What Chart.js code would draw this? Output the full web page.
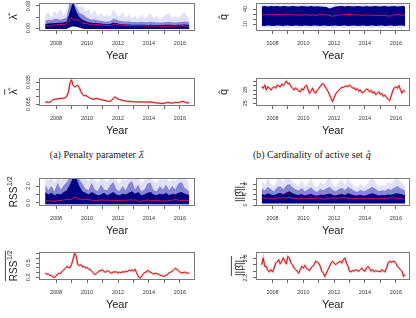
<!DOCTYPE html>
<html>
<head>
<meta charset="utf-8">
<script src="https://cdn.jsdelivr.net/npm/chart.js@4.4.0/dist/chart.umd.min.js"></script>
<style>
  html, body { margin: 0; padding: 0; background: #fff; }
  #fig { position: relative; width: 416px; height: 318px; overflow: hidden; background: #fff; }
  #fig canvas { position: absolute; }
  .cap { position: absolute; font-family: "Liberation Serif", "DejaVu Serif", serif; font-size: 10px; color: #222;
         white-space: nowrap; transform: translateX(-50%); line-height: 1; }
  .cap .m { font-family: "DejaVu Serif", serif; font-style: italic; font-size: 9px; }
</style>
</head>
<body>
<div id="fig">
  <canvas id="pA1"></canvas>
  <canvas id="pA2"></canvas>
  <canvas id="pB1"></canvas>
  <canvas id="pB2"></canvas>
  <canvas id="pC1"></canvas>
  <canvas id="pC2"></canvas>
  <canvas id="pD1"></canvas>
  <canvas id="pD2"></canvas>
  <div class="cap" style="left:97px; top:150px;">(a) Penalty parameter <span class="m">λ̂</span></div>
  <div class="cap" style="left:312px; top:150px;">(b) Cardinality of active set <span class="m">q̂</span></div>
</div>
<script>
// ---- data ----
const years = [
  2007.3, 2007.4, 2007.5, 2007.6, 2007.7, 2007.8, 2007.9,
  2008.0, 2008.1, 2008.2, 2008.3, 2008.4, 2008.5, 2008.6, 2008.7, 2008.8, 2008.9,
  2009.0, 2009.1, 2009.2, 2009.3, 2009.4, 2009.5, 2009.6, 2009.7, 2009.8, 2009.9,
  2010.0, 2010.1, 2010.2, 2010.3, 2010.4, 2010.5, 2010.6, 2010.7, 2010.8, 2010.9,
  2011.0, 2011.1, 2011.2, 2011.3, 2011.4, 2011.5, 2011.6, 2011.7, 2011.8, 2011.9,
  2012.0, 2012.1, 2012.2, 2012.3, 2012.4, 2012.5, 2012.6, 2012.7, 2012.8, 2012.9,
  2013.0, 2013.1, 2013.2, 2013.3, 2013.4, 2013.5, 2013.6, 2013.7, 2013.8, 2013.9,
  2014.0, 2014.1, 2014.2, 2014.3, 2014.4, 2014.5, 2014.6, 2014.7, 2014.8, 2014.9,
  2015.0, 2015.1, 2015.2, 2015.3, 2015.4, 2015.5, 2015.6, 2015.7, 2015.8, 2015.9,
  2016.0, 2016.1, 2016.2, 2016.3, 2016.4, 2016.5, 2016.6
];

const bandYears = [
  2007.3, 2007.5, 2007.7, 2007.9, 2008.1, 2008.3, 2008.5, 2008.7,
  2008.9, 2009.1, 2009.3, 2009.5, 2009.7, 2009.9, 2010.1, 2010.3,
  2010.5, 2010.7, 2010.9, 2011.1, 2011.3, 2011.5, 2011.7, 2011.9,
  2012.1, 2012.3, 2012.5, 2012.7, 2012.9, 2013.1, 2013.3, 2013.5,
  2013.7, 2013.9, 2014.1, 2014.3, 2014.5, 2014.7, 2014.9, 2015.1,
  2015.3, 2015.5, 2015.7, 2015.9, 2016.1, 2016.3, 2016.5, 2016.6
];

const xTicks = [2008, 2009, 2010, 2011, 2012, 2013, 2014, 2015, 2016];

// mean penalty parameter lambda
const lamMean = [
  0.008, 0.0077, 0.0073, 0.0075, 0.009, 0.0108, 0.0115,
  0.0117, 0.0119, 0.0124, 0.0128, 0.0126, 0.013, 0.0135, 0.0158, 0.0215, 0.034,
  0.038, 0.0305, 0.0285, 0.0292, 0.0305, 0.0275, 0.0222, 0.0182, 0.0163, 0.0167,
  0.0158, 0.0143, 0.013, 0.0121, 0.0116, 0.0121, 0.0126, 0.0121, 0.0116, 0.011,
  0.0105, 0.0101, 0.0096, 0.0091, 0.0087, 0.0088, 0.0102, 0.013, 0.0147, 0.0131,
  0.012, 0.0111, 0.0104, 0.0099, 0.0095, 0.0091, 0.0088, 0.0086, 0.0084, 0.0082,
  0.0081, 0.008, 0.0079, 0.008, 0.0078, 0.0077, 0.0079, 0.0078, 0.0076, 0.0078,
  0.0076, 0.0079, 0.0075, 0.0071, 0.0068, 0.0066, 0.0063, 0.006, 0.0058, 0.0058,
  0.006, 0.0066, 0.0073, 0.007, 0.0065, 0.0063, 0.0066, 0.0073, 0.0071, 0.0068,
  0.0076, 0.0083, 0.0086, 0.0078, 0.0068, 0.0065, 0.007
];

// mean cardinality of active set
const qMean = [
  28.75, 28.4, 29.1, 28.0, 28.75, 28.4, 28.0,
  28.5, 28.75, 28.4, 29.1, 28.9, 28.7, 29.3, 29.0, 29.5, 30.0,
  29.4, 29.5, 28.8, 28.4, 28.0, 28.5, 28.1, 27.8, 27.6, 28.3,
  28.0, 28.75, 29.1, 28.2, 27.25, 27.8, 28.4, 27.6, 27.3, 27.9,
  28.3, 28.8, 29.3, 29.4, 28.9, 28.3, 27.7, 26.9, 26.1, 25.4,
  26.3, 27.1, 27.6, 27.9, 28.3, 28.6, 28.6, 28.8, 28.9, 28.8,
  29.1, 28.8, 28.4, 28.5, 28.0, 28.3, 27.7, 28.0, 27.4, 27.5,
  27.9, 28.2, 28.1, 27.6, 27.9, 27.3, 27.6, 26.9, 27.25, 27.6,
  27.0, 27.2, 26.6, 26.8, 26.3, 25.9, 25.6, 26.6, 27.8, 28.5,
  28.7, 28.4, 29.0, 28.1, 27.3, 27.9, 27.6
];

// mean square-root residual sum of squares
const rssMean = [
  0.29, 0.27, 0.27, 0.245, 0.24, 0.215, 0.2,
  0.23, 0.27, 0.29, 0.28, 0.33, 0.36, 0.39, 0.43, 0.41, 0.40,
  0.47, 0.58, 0.70, 0.65, 0.47, 0.45, 0.465, 0.42, 0.43, 0.40,
  0.41, 0.37, 0.37, 0.33, 0.30, 0.26, 0.28, 0.31, 0.34, 0.34,
  0.36, 0.32, 0.31, 0.34, 0.33, 0.30, 0.29, 0.32, 0.31, 0.32,
  0.29, 0.31, 0.30, 0.32, 0.31, 0.33, 0.32, 0.35, 0.34, 0.36,
  0.33, 0.37, 0.30, 0.23, 0.185, 0.21, 0.26, 0.30, 0.31, 0.35,
  0.32, 0.31, 0.29, 0.27, 0.29, 0.28, 0.27, 0.25, 0.24, 0.23,
  0.22, 0.25, 0.26, 0.30, 0.31, 0.33, 0.36, 0.39, 0.37, 0.34,
  0.31, 0.29, 0.30, 0.31, 0.29, 0.30, 0.28
];

// mean l1 norm of beta
const betaMean = [
  2.60, 2.81, 2.55, 2.55, 2.42, 2.38, 2.45, 2.38, 2.48, 2.65,
  2.68, 2.76, 2.63, 2.71, 2.81, 2.71, 2.63, 2.86, 2.81, 2.65,
  2.6, 2.5, 2.45, 2.4, 2.34, 2.45, 2.55, 2.5, 2.58, 2.5, 2.45,
  2.42, 2.5, 2.55, 2.6, 2.71, 2.68, 2.65, 2.55, 2.4, 2.34, 2.24,
  2.34, 2.45, 2.55, 2.65, 2.71, 2.65, 2.6, 2.65, 2.68, 2.71, 2.65, 2.76, 2.81,
  2.65, 2.55, 2.4, 2.38, 2.42, 2.4, 2.45, 2.42, 2.4, 2.45, 2.5, 2.42, 2.4, 2.5, 2.55,
  2.48, 2.4, 2.45, 2.38, 2.42, 2.4, 2.4, 2.38, 2.45, 2.4, 2.38, 2.5,
  2.65, 2.71, 2.68, 2.7, 2.71, 2.65, 2.55, 2.5, 2.45, 2.4, 2.24, 2.3
];

// spread of the single paths (upper / lower envelopes)
const lamLow = [
  -0.004, -0.004, -0.004, -0.004, -0.004, -0.004, -0.004, -0.003,
  0.003, 0.006, 0.005, 0.002, -0.002, -0.004, -0.004, -0.004,
  -0.004, -0.004, -0.004, -0.004, -0.004, -0.004, -0.004, -0.004,
  -0.004, -0.004, -0.004, -0.004, -0.004, -0.004, -0.004, -0.004,
  -0.004, -0.004, -0.004, -0.004, -0.004, -0.004, -0.004, -0.004,
  -0.004, -0.004, -0.004, -0.004, -0.004, -0.004, -0.004, -0.004
];
const lamCore = [
  0.014, 0.016, 0.017, 0.018, 0.019, 0.019, 0.02, 0.024,
  0.06, 0.095, 0.06, 0.04, 0.03, 0.025, 0.021, 0.019,
  0.018, 0.017, 0.016, 0.015, 0.014, 0.015, 0.019, 0.018,
  0.015, 0.014, 0.013, 0.013, 0.012, 0.012, 0.012, 0.012,
  0.012, 0.011, 0.012, 0.011, 0.011, 0.011, 0.011, 0.012,
  0.012, 0.011, 0.011, 0.012, 0.012, 0.013, 0.012, 0.011
];
const lamMid = [
  0.026, 0.03, 0.028, 0.034, 0.033, 0.03, 0.034, 0.04,
  0.095, 0.095, 0.075, 0.055, 0.05, 0.042, 0.035, 0.03,
  0.032, 0.027, 0.026, 0.024, 0.024, 0.025, 0.034, 0.03,
  0.026, 0.025, 0.024, 0.024, 0.022, 0.022, 0.021, 0.023,
  0.021, 0.021, 0.023, 0.021, 0.02, 0.02, 0.02, 0.022,
  0.023, 0.021, 0.02, 0.021, 0.022, 0.024, 0.022, 0.02
];
const lamHigh = [
  0.045, 0.06, 0.038, 0.062, 0.05, 0.068, 0.045, 0.07,
  0.095, 0.095, 0.09, 0.075, 0.082, 0.06, 0.07, 0.048,
  0.066, 0.042, 0.055, 0.04, 0.05, 0.038, 0.068, 0.05,
  0.04, 0.058, 0.036, 0.05, 0.034, 0.045, 0.032, 0.05,
  0.035, 0.042, 0.055, 0.034, 0.045, 0.032, 0.04, 0.05,
  0.058, 0.034, 0.045, 0.035, 0.05, 0.056, 0.04, 0.032
];

const qLow = [
  3, 1.5, 3.5, 2, 2.5, 1, 3, 2,
  3.5, 1.5, 2.5, 3, 1, 2.5, 3.5, 2,
  1.5, 3, 2.5, 1, 3, 2, 3.5, 2,
  1.5, 3, 2.5, 1, 3, 2, 2.5, 3.5,
  1.5, 2.5, 3, 1, 2, 3.5, 2.5, 1.5,
  3, 2, 2.5, 1, 3, 2, 3.5, 2.5
];
const qCoreLo = [
  6.5, 6, 7, 6.5, 6, 7, 6.5, 6,
  7, 6.5, 6, 7, 6.5, 6, 7, 6.5,
  6, 7, 6.5, 6, 7, 6.5, 6, 6.5,
  7, 6, 6.5, 7, 6, 6.5, 7, 6,
  6.5, 7, 6, 6.5, 7, 6, 6.5, 7,
  6, 6.5, 7, 6, 6.5, 7, 6.5, 6
];
const qCoreHi = [
  45, 46, 45, 46, 45.5, 46, 45, 46,
  45.5, 45, 46, 45.5, 45, 46, 45.5, 45,
  46, 45, 45.5, 45, 44.5, 44, 41, 43,
  45, 45.5, 46, 45, 46, 45.5, 45, 46,
  45.5, 45, 46, 45, 45.5, 46, 45, 45.5,
  46, 45, 45.5, 46, 45, 45.5, 46, 45
];
const qHigh = [
  49, 51, 48, 50.5, 49, 51, 48.5, 50,
  51, 49, 50, 48, 50.5, 49, 51, 48.5,
  50, 49, 51, 48, 49.5, 48, 46, 48,
  50, 49, 51, 48.5, 50, 49, 51, 48,
  50.5, 49, 51, 48.5, 50, 49, 51, 48,
  50.5, 49, 51, 48.5, 50, 49, 51, 48.5
];

const rssCore = [
  1.3, 1.0, 1.2, 0.9, 1.1, 1.0, 1.3, 1.5,
  2.2, 3.0, 3.0, 2.0, 1.4, 1.2, 1.0, 1.3,
  1.1, 0.9, 1.0, 1.2, 0.9, 1.1, 1.3, 1.0,
  0.9, 1.1, 1.0, 1.2, 1.4, 1.1, 1.3, 0.9,
  1.0, 1.2, 1.3, 1.0, 0.9, 1.1, 1.0, 1.2,
  0.9, 1.1, 1.0, 1.2, 1.3, 1.1, 1.0, 0.9
];
const rssMid = [
  2.2, 1.5, 2.0, 1.4, 2.4, 1.6, 2.1, 2.5,
  3.0, 3.0, 3.0, 2.8, 2.3, 1.7, 1.5, 2.4,
  1.6, 1.4, 2.2, 1.6, 1.5, 2.1, 2.5, 1.6,
  1.4, 2.0, 1.5, 2.3, 2.6, 1.6, 2.2, 1.4,
  1.6, 2.3, 2.4, 1.5, 1.4, 2.0, 1.6, 2.2,
  1.5, 2.0, 1.6, 2.3, 2.5, 1.8, 1.5, 1.4
];
const rssHigh = [
  3.0, 2.6, 3.0, 2.4, 3.0, 2.7, 3.0, 3.0,
  3.0, 3.0, 3.0, 3.0, 3.0, 2.8, 2.6, 3.0,
  2.7, 2.4, 3.0, 2.8, 2.5, 3.0, 3.0, 2.7,
  2.3, 2.9, 2.6, 3.0, 3.0, 2.8, 3.0, 2.4,
  2.7, 3.0, 3.0, 2.6, 2.4, 2.9, 2.7, 3.0,
  2.5, 2.8, 2.6, 3.0, 3.0, 2.9, 2.6, 2.4
];

const betaCore = [
  4.2, 3.8, 4.5, 4.0, 3.7, 4.3, 4.6, 4.1,
  4.8, 5.2, 4.5, 4.0, 3.8, 4.2, 3.6, 3.9,
  4.3, 3.7, 3.5, 4.0, 3.8, 4.1, 4.4, 3.9,
  3.6, 4.0, 4.2, 3.8, 4.5, 4.1, 3.7, 3.6,
  3.9, 3.5, 3.8, 4.2, 4.5, 4.0, 3.6, 3.8,
  3.7, 4.0, 3.9, 4.3, 4.5, 4.2, 3.9, 3.7
];
const betaMid = [
  6.5, 5.5, 7.0, 6.0, 5.2, 6.8, 7.2, 6.0,
  7.5, 8.0, 6.8, 6.0, 5.5, 6.5, 5.2, 6.0,
  6.8, 5.5, 5.0, 6.2, 5.6, 6.4, 7.0, 5.8,
  5.2, 6.0, 6.6, 5.6, 7.0, 6.2, 5.4, 5.0,
  5.8, 5.2, 5.6, 6.4, 7.0, 6.0, 5.2, 5.6,
  5.4, 6.2, 5.8, 6.6, 7.2, 6.4, 5.8, 5.4
];
const betaHigh = [
  9.5, 7.5, 10.4, 8.0, 7.0, 9.8, 10.4, 8.5,
  10.4, 10.4, 9.0, 8.0, 7.2, 9.5, 7.0, 8.5,
  10.0, 7.5, 6.8, 9.0, 7.8, 9.2, 10.4, 8.0,
  7.0, 8.8, 9.6, 7.4, 10.4, 8.6, 7.2, 6.8,
  8.0, 7.0, 7.6, 9.2, 10.4, 8.4, 7.0, 7.6,
  7.2, 8.8, 8.0, 9.6, 10.4, 9.0, 8.0, 7.2
];

// axis ticks (labels R left after dropping overlaps)
const lamTopTicks = [0, 0.04, 0.08];
const lamTopLabels = ['0.00', '', '0.08'];
const lamTicks = [0.005, 0.015, 0.025, 0.035];
const lamLabels = ['0.005', '', '', '0.035'];
const qTopTicks = [10, 20, 30, 40];
const qTopLabels = ['10', '', '', '40'];
const qTicks = [25, 26, 27, 28, 29, 30];
const qLabels = ['25', '', '', '28', '', ''];
const rssTopTicks = [0, 1, 2];
const rssTopLabels = ['0.0', '', '2.0'];
const rssTicks = [0.2, 0.3, 0.4, 0.5, 0.6, 0.7];
const rssLabels = ['0.2', '', '', '0.5', '', ''];
const betaTopTicks = [0, 2, 4, 6, 8];
const betaTopLabels = ['0', '', '4', '', '8'];
const betaTicks = [2.2, 2.4, 2.6, 2.8];
const betaLabels = ['2.2', '', '', '2.8'];

// ---- styling ----
const SANS = '"Liberation Sans", Arial, Helvetica, sans-serif';
const NAVY = '#000080';
const NAVY_MID = 'rgba(25,25,170,0.45)';
const NAVY_LIGHT = 'rgba(60,60,210,0.16)';

const colLeft = [39, 256];
const colWidth = [156, 154];
const colRange = [[2006.9, 2016.97], [2006.93, 2016.92]];
const rowTop = [3, 78, 178, 252];
const BOX_H = 28, PAD_L = 38, PAD_T = 3, PAD_R = 4, PAD_B = 30;

function pts(xs, ys) {
  return xs.map((x, i) => ({ x, y: ys[i] }));
}

function layerSets(layers) {
  const out = [];
  layers.forEach((l, k) => {
    const order = 10 + layers.length - k;
    const base = { borderWidth: 0, borderColor: 'transparent', pointRadius: 0, order };
    if (Array.isArray(l.lo)) {
      out.push({ ...base, data: pts(bandYears, l.lo), fill: false });
      out.push({ ...base, data: pts(bandYears, l.hi), fill: '-1', backgroundColor: l.color });
    } else {
      out.push({ ...base, data: pts(bandYears, l.hi), fill: { value: l.lo }, backgroundColor: l.color });
    }
  });
  return out;
}

const panels = [
  { id: 'pA1', col: 0, row: 0, y: [-0.0109, 0.0909], ticks: lamTopTicks, labels: lamTopLabels,
    title: { main: 'λ̂', size: 11, cx: 12 }, line: lamMean, top: true,
    layers: [{ hi: lamHigh, lo: lamLow, color: NAVY_LIGHT }, { hi: lamMid, lo: lamLow, color: NAVY_MID },
             { hi: lamCore, lo: lamLow, color: NAVY }] },
  { id: 'pA2', col: 0, row: 1, y: [0.0023, 0.0405], ticks: lamTicks, labels: lamLabels,
    title: { main: 'λ̂', size: 11, cx: 12, bar: true }, line: lamMean },
  { id: 'pB1', col: 1, row: 0, y: [-4, 52], ticks: qTopTicks, labels: qTopLabels,
    title: { main: 'q̂', size: 11, cx: 5 }, line: qMean, top: true,
    layers: [{ hi: qHigh, lo: qLow, color: NAVY_LIGHT }, { hi: qCoreHi, lo: qCoreLo, color: NAVY }] },
  { id: 'pB2', col: 1, row: 1, y: [24.39, 30.71], ticks: qTicks, labels: qLabels,
    title: { main: 'q̂', size: 11, cx: 5, bar: true }, line: qMean },
  { id: 'pC1', col: 0, row: 2, y: [-0.36, 2.96], ticks: rssTopTicks, labels: rssTopLabels,
    title: { main: 'RSS', sup: '1/2', size: 10, cx: 12 }, line: rssMean, top: true,
    layers: [{ hi: rssHigh, lo: -0.15, color: NAVY_LIGHT }, { hi: rssMid, lo: -0.15, color: NAVY_MID },
             { hi: rssCore, lo: -0.15, color: NAVY }] },
  { id: 'pC2', col: 0, row: 3, y: [0.148, 0.728], ticks: rssTicks, labels: rssLabels,
    title: { main: 'RSS', sup: '1/2', size: 10, cx: 12, bar: true }, line: rssMean },
  { id: 'pD1', col: 1, row: 2, y: [-0.38, 10.29], ticks: betaTopTicks, labels: betaTopLabels,
    title: { main: '||β̂||', sub: '1', size: 10, cx: 21 }, line: betaMean, top: true,
    layers: [{ hi: betaHigh, lo: 0.2, color: NAVY_LIGHT }, { hi: betaMid, lo: 0.45, color: NAVY_MID },
             { hi: betaCore, lo: 0.7, color: NAVY }] },
  { id: 'pD2', col: 1, row: 3, y: [2.129, 2.995], ticks: betaTicks, labels: betaLabels,
    title: { main: '||β̂||', sub: '1', size: 10, cx: 21, bar: true }, line: betaMean }
];

function drawYTitle(ctx, t, cx, cy) {
  ctx.save();
  ctx.translate(cx, cy);
  ctx.rotate(-Math.PI / 2);
  ctx.fillStyle = '#1a1a1a';
  ctx.strokeStyle = '#1a1a1a';
  ctx.textAlign = 'left';
  ctx.textBaseline = 'alphabetic';
  const mainFont = t.size + 'px ' + SANS;
  const small = Math.round(t.size * 0.72);
  const smallFont = small + 'px ' + SANS;
  ctx.font = mainFont;
  const wMain = ctx.measureText(t.main).width;
  const extra = t.sup || t.sub;
  let wExtra = 0;
  if (extra) { ctx.font = smallFont; wExtra = ctx.measureText(extra).width; }
  const total = wMain + wExtra;
  const x0 = -total / 2;
  const base = t.size * 0.36;
  ctx.font = mainFont;
  ctx.fillText(t.main, x0, base);
  if (extra) {
    ctx.font = smallFont;
    const dy = t.sup ? -t.size * 0.42 : t.size * 0.28;
    ctx.fillText(extra, x0 + wMain + 0.5, base + dy);
  }
  if (t.bar) {
    ctx.lineWidth = 0.8;
    ctx.beginPath();
    const yb = base - t.size * 1.12;
    ctx.moveTo(x0, yb);
    ctx.lineTo(x0 + total, yb);
    ctx.stroke();
  }
  ctx.restore();
}

function makePanel(p) {
  const cv = document.getElementById(p.id);
  const w = colWidth[p.col] + PAD_L + PAD_R;
  const h = BOX_H + PAD_T + PAD_B;
  cv.width = w;
  cv.height = h;
  cv.style.left = (colLeft[p.col] - PAD_L) + 'px';
  cv.style.top = (rowTop[p.row] - PAD_T) + 'px';

  let datasets = [];
  if (p.top) {
    datasets = layerSets(p.layers);
    datasets.push({ data: pts(years, p.line), borderColor: '#d8164a', borderWidth: 1, pointRadius: 0, fill: false, order: 0 });
  } else {
    datasets.push({ data: pts(years, p.line), borderColor: 'rgba(232,80,80,0.4)', borderWidth: 2.2, pointRadius: 0, fill: false, order: 1 });
    datasets.push({ data: pts(years, p.line), borderColor: '#c40000', borderWidth: 0.9, pointRadius: 0, fill: false, order: 0 });
  }

  const framePlugin = {
    id: 'frame',
    afterDraw(chart) {
      const { ctx, chartArea: a } = chart;
      const ys = chart.scales.y;
      ctx.save();
      ctx.strokeStyle = '#7a7a7a';
      ctx.lineWidth = 1;
      ctx.strokeRect(Math.round(a.left) + 0.5, Math.round(a.top) + 0.5,
                     Math.round(a.right - a.left) - 1, Math.round(a.bottom - a.top) - 1);
      ctx.fillStyle = '#333';
      ctx.font = '5.5px ' + SANS;
      ctx.textAlign = 'center';
      ctx.textBaseline = 'middle';
      p.ticks.forEach((v, i) => {
        if (!p.labels[i]) return;
        const y = ys.getPixelForValue(v);
        ctx.save();
        ctx.translate(a.left - 10.5, y);
        ctx.rotate(-Math.PI / 2);
        ctx.fillText(p.labels[i], 0, 0);
        ctx.restore();
      });
      ctx.restore();
      drawYTitle(ctx, p.title, p.title.cx, (a.top + a.bottom) / 2);
    }
  };

  new Chart(cv, {
    type: 'line',
    data: { datasets },
    options: {
      responsive: false,
      animation: false,
      devicePixelRatio: 1,
      layout: { padding: { top: PAD_T, right: PAD_R, left: 0, bottom: 0 } },
      plugins: { legend: { display: false }, tooltip: { enabled: false } },
      elements: { line: { tension: 0 }, point: { radius: 0 } },
      scales: {
        x: {
          type: 'linear',
          min: colRange[p.col][0],
          max: colRange[p.col][1],
          afterFit: s => { s.height = PAD_B; },
          afterBuildTicks: s => { s.ticks = xTicks.map(v => ({ value: v })); },
          ticks: {
            autoSkip: false, maxRotation: 0, minRotation: 0, padding: 6,
            color: '#333', font: { size: 5.5, family: SANS },
            callback: v => (v % 2 === 0 ? String(v) : '')
          },
          grid: { drawOnChartArea: false, drawTicks: true, tickLength: 3, color: '#666' },
          border: { display: false },
          title: { display: true, text: 'Year', color: '#222', padding: { top: 0, bottom: 0 },
                   font: { size: 11, family: SANS, lineHeight: 1 } }
        },
        y: {
          min: p.y[0],
          max: p.y[1],
          afterFit: s => { s.width = PAD_L; },
          afterBuildTicks: s => { s.ticks = p.ticks.map(v => ({ value: v })); },
          ticks: { display: false },
          grid: { drawOnChartArea: false, drawTicks: true, tickLength: 3, color: '#666' },
          border: { display: false }
        }
      }
    },
    plugins: [framePlugin]
  });
}

panels.forEach(makePanel);
</script>
</body>
</html>
